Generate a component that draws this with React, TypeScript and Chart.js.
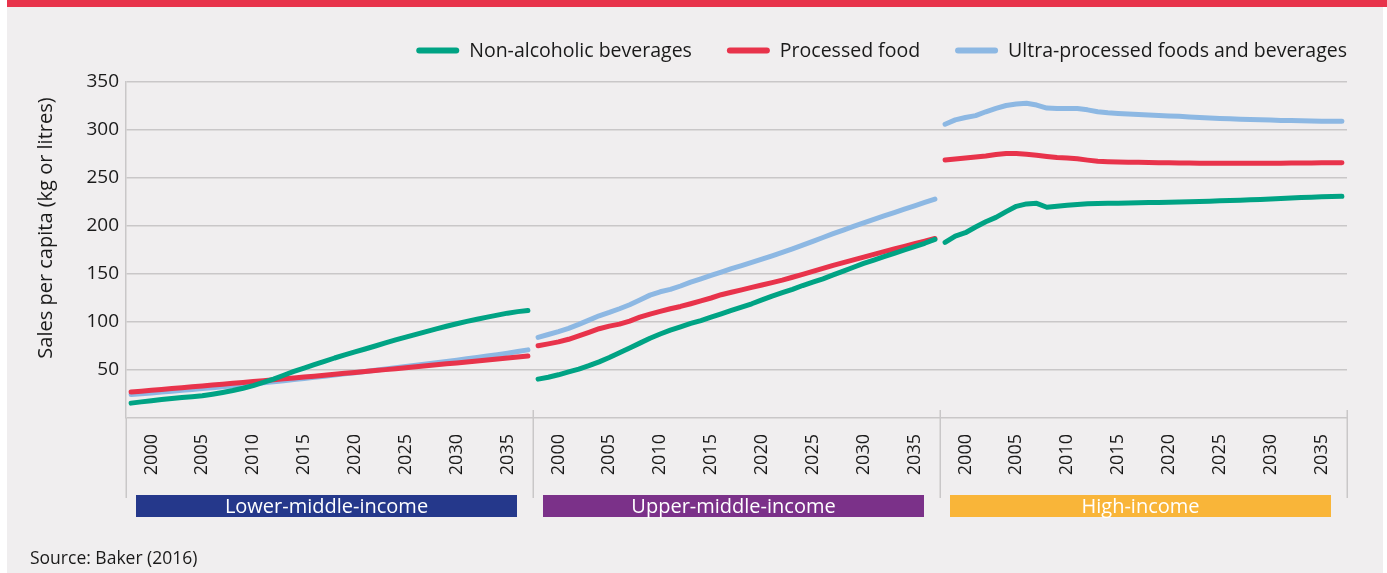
import { useEffect, useRef } from "react";
import { Chart, registerables } from "chart.js";

Chart.register(...registerables);

// ---------- data ----------
const years = [
  1998, 1999, 2000, 2001, 2002, 2003, 2004, 2005, 2006, 2007,
  2008, 2009, 2010, 2011, 2012, 2013, 2014, 2015, 2016, 2017,
  2018, 2019, 2020, 2021, 2022, 2023, 2024, 2025, 2026, 2027,
  2028, 2029, 2030, 2031, 2032, 2033, 2034, 2035, 2036, 2037,
];
const tickYears = [2000, 2005, 2010, 2015, 2020, 2025, 2030, 2035];
const yTickValues = [0, 50, 100, 150, 200, 250, 300, 350];
const incomeGroups = ["Lower-middle-income", "Upper-middle-income", "High-income"];
const seriesNames = ["Non-alcoholic beverages", "Processed food", "Ultra-processed foods and beverages"];

// Lower-middle-income
const lmicBeverages = [15.5, 16.8, 18, 19.2, 20.3, 21.3, 22.2, 23.2, 24.8, 26.6, 28.6, 31, 33.8, 37, 40.5, 44.5, 48.5, 52, 55.5, 59, 62.5, 65.7, 68.8, 71.9, 75, 78.2, 81.3, 84.3, 87.2, 90, 92.8, 95.6, 98.2, 100.6, 102.9, 105.1, 107.2, 109.2, 110.8, 112];
const lmicProcessed = [27, 27.9, 28.8, 29.8, 30.7, 31.6, 32.5, 33.4, 34.3, 35.2, 36.1, 37, 38, 38.9, 39.8, 40.8, 41.7, 42.7, 43.6, 44.6, 45.5, 46.5, 47.5, 48.4, 49.4, 50.4, 51.4, 52.4, 53.4, 54.4, 55.4, 56.4, 57.4, 58.4, 59.4, 60.4, 61.4, 62.4, 63.5, 64.6];
const lmicUltra = [24.5, 25.3, 26.1, 27, 27.9, 28.8, 29.7, 30.6, 31.6, 32.6, 33.6, 34.6, 35.6, 36.7, 37.8, 38.9, 40, 41.2, 42.4, 43.6, 44.8, 46, 47.2, 48.5, 49.8, 51.1, 52.4, 53.7, 55, 56.3, 57.6, 58.9, 60.3, 61.7, 63.1, 64.5, 66, 67.5, 69.2, 71];

// Upper-middle-income
const umicBeverages = [40.5, 42.5, 45, 48, 51, 54.5, 58.5, 63, 68, 73, 78, 83, 87.5, 91.5, 95, 98.5, 101.5, 105, 108.5, 112, 115.5, 119, 123, 127, 130.5, 134, 138, 141.5, 145, 149, 153, 157, 161, 164.5, 168, 171.5, 175, 178.5, 182, 186];
const umicProcessed = [75.3, 77.2, 79.3, 82, 85.5, 89.2, 93, 95.7, 97.8, 101, 105, 108.2, 111, 113.8, 116.2, 119, 122, 125, 128.4, 131, 133.5, 136, 138.5, 141, 143.6, 146.6, 149.6, 152.7, 155.8, 159, 161.8, 164.7, 167.6, 170.5, 173.3, 176, 178.8, 181.5, 184.2, 187];
const umicUltra = [84, 87, 90, 93.3, 97.5, 102, 106.5, 110, 113.8, 118, 123, 128, 131.5, 134, 137.5, 141.5, 145, 148.5, 152, 155.5, 158.7, 162, 165.5, 169, 172.5, 176.2, 180, 184, 188, 192, 195.8, 199.5, 203.2, 207, 210.5, 214, 217.5, 221, 224.5, 228];

// High-income
const hicBeverages = [183, 189.5, 193, 199, 204.5, 209, 215, 220.5, 223, 223.6, 219.5, 220.5, 221.5, 222.5, 223.2, 223.4, 223.6, 223.8, 224, 224.2, 224.4, 224.6, 224.8, 225, 225.3, 225.6, 225.9, 226.2, 226.5, 226.9, 227.3, 227.7, 228.1, 228.6, 229.1, 229.6, 230, 230.4, 230.7, 231];
const hicProcessed = [268.8, 269.8, 270.8, 271.8, 273, 274.5, 275.6, 275.5, 274.8, 273.8, 272.5, 271.3, 270.8, 270, 268.6, 267.4, 267, 266.7, 266.5, 266.3, 266.1, 266, 265.8, 265.6, 265.5, 265.4, 265.3, 265.3, 265.3, 265.3, 265.3, 265.3, 265.3, 265.4, 265.5, 265.6, 265.7, 265.8, 265.9, 266];
const hicUltra = [306, 310.5, 313, 315, 319, 322.5, 325.5, 327, 327.8, 326, 322.8, 322.5, 322.5, 322.3, 321, 319, 318, 317.3, 316.7, 316.2, 315.7, 315.2, 314.7, 314.2, 313.6, 313, 312.5, 312, 311.6, 311.2, 310.9, 310.6, 310.3, 310, 309.8, 309.6, 309.4, 309.2, 309.1, 309];

// ---------- styles ----------
const seriesColors = ["#00a384", "#e8334b", "#8db8e3"];
const groupColors = ["#25388b", "#7b3189", "#f9b539"];
const FONT = "'Open Sans', sans-serif";
const TEXT = "#1a1a1a";
const GRID = "#c9c7c8";

const groupedValues = [
  [lmicBeverages, umicBeverages, hicBeverages],
  [lmicProcessed, umicProcessed, hicProcessed],
  [lmicUltra, umicUltra, hicUltra],
];

const N = years.length;
const posOf = (panel: number, year: number) => panel * N + (year - years[0]) + 0.5;

function buildSeries(s: number) {
  const pts: { x: number; y: number | null }[] = [];
  groupedValues[s].forEach((vals, k) => {
    vals.forEach((v, i) => pts.push({ x: posOf(k, years[i]), y: v }));
    if (k < groupedValues[s].length - 1) pts.push({ x: (k + 1) * N, y: null });
  });
  return pts;
}

const tickPositions: number[] = [];
const tickLabelMap: Record<string, string> = {};
incomeGroups.forEach((_, k) => {
  tickYears.forEach((yr) => {
    const p = posOf(k, yr);
    tickPositions.push(p);
    tickLabelMap[p.toFixed(2)] = String(yr);
  });
});

const decorPlugin = {
  id: "decor",
  afterDraw(chart: any) {
    const ctx = chart.ctx as CanvasRenderingContext2D;
    const xs = chart.scales.x;
    const ys = chart.scales.y;
    const area = chart.chartArea;
    const base = ys.getPixelForValue(0);
    const lower = base + 80;
    ctx.save();

    // panel dividers / axis extension
    ctx.strokeStyle = GRID;
    ctx.lineWidth = 1.5;
    for (let k = 0; k <= incomeGroups.length; k++) {
      const x = Math.round(xs.getPixelForValue(k * N)) + 0.25;
      ctx.beginPath();
      ctx.moveTo(x, k === 0 ? base : base - 8);
      ctx.lineTo(x, lower);
      ctx.stroke();
    }

    // income group bars
    ctx.font = `20px ${FONT}`;
    ctx.textAlign = "center";
    ctx.textBaseline = "alphabetic";
    incomeGroups.forEach((g, k) => {
      const l = xs.getPixelForValue(k * N) + 10;
      const r = xs.getPixelForValue((k + 1) * N) - 16;
      ctx.fillStyle = groupColors[k];
      ctx.fillRect(l, base + 77, r - l, 22);
      ctx.fillStyle = "#ffffff";
      ctx.fillText(g, (l + r) / 2, base + 95);
    });

    // legend
    ctx.font = `19.5px ${FONT}`;
    ctx.textAlign = "left";
    ctx.textBaseline = "alphabetic";
    let x = area.right;
    for (let s = seriesNames.length - 1; s >= 0; s--) {
      const w = ctx.measureText(seriesNames[s]).width;
      x -= w;
      ctx.fillStyle = TEXT;
      ctx.fillText(seriesNames[s], x, 57);
      x -= 10;
      ctx.strokeStyle = seriesColors[s];
      ctx.lineWidth = 6;
      ctx.lineCap = "round";
      ctx.beginPath();
      ctx.moveTo(x - 40, 50.5);
      ctx.lineTo(x - 3, 50.5);
      ctx.stroke();
      x -= 43 + 35;
    }

    // y axis title
    ctx.save();
    ctx.translate(46, 228);
    ctx.rotate(-Math.PI / 2);
    ctx.font = `20px ${FONT}`;
    ctx.textAlign = "center";
    ctx.textBaseline = "middle";
    ctx.fillStyle = TEXT;
    ctx.fillText("Sales per capita (kg or litres)", 0, 0);
    ctx.restore();

    // source
    ctx.font = `17.5px ${FONT}`;
    ctx.textAlign = "left";
    ctx.textBaseline = "alphabetic";
    ctx.fillStyle = TEXT;
    ctx.fillText("Source: Baker (2016)", 30, 564);

    ctx.restore();
  },
};

export default function App() {
  const ref = useRef<HTMLCanvasElement>(null);

  useEffect(() => {
    if (!ref.current) return;
    const chart = new Chart(ref.current, {
      type: "line",
      data: {
        datasets: seriesNames.map((name, s) => ({
          label: name,
          data: buildSeries(s),
          borderColor: seriesColors[s],
          backgroundColor: seriesColors[s],
          borderWidth: 5,
          borderCapStyle: "round",
          borderJoinStyle: "round",
          pointRadius: 0,
          pointHoverRadius: 0,
          tension: 0,
          spanGaps: false,
          fill: false,
        })),
      },
      options: {
        responsive: false,
        animation: false,
        devicePixelRatio: 1,
        parsing: false,
        normalized: true,
        layout: { padding: { left: 0, right: 40, top: 82, bottom: 75 } },
        plugins: {
          legend: { display: false },
          tooltip: { enabled: false },
          title: { display: false },
        },
        scales: {
          x: {
            type: "linear",
            min: 0,
            max: N * incomeGroups.length,
            grid: { display: false, drawTicks: false },
            border: { display: false },
            afterBuildTicks: (axis: any) => {
              axis.ticks = tickPositions.map((v) => ({ value: v }));
            },
            afterFit: (axis: any) => {
              axis.height = 80;
            },
            ticks: {
              autoSkip: false,
              minRotation: 90,
              maxRotation: 90,
              padding: 16,
              color: TEXT,
              font: { family: FONT, size: 18 },
              callback: (v: any) => tickLabelMap[Number(v).toFixed(2)] ?? "",
            },
          },
          y: {
            type: "linear",
            min: 0,
            max: 350,
            afterBuildTicks: (axis: any) => {
              axis.ticks = yTickValues.map((v) => ({ value: v }));
            },
            afterFit: (axis: any) => {
              axis.width = 126;
            },
            grid: { color: GRID, lineWidth: 1.5, drawTicks: false },
            border: { display: true, color: GRID, width: 1.5 },
            ticks: {
              padding: 7,
              color: TEXT,
              font: { family: FONT, size: 19 },
              callback: (v: any) => (Number(v) === 0 ? "" : String(v)),
            },
          },
        },
      },
      plugins: [decorPlugin],
    } as any);
    return () => chart.destroy();
  }, []);

  return (
    <div
      style={{
        position: "fixed",
        left: 0,
        top: 0,
        width: 1387,
        height: 573,
        background: "#ffffff",
        overflow: "hidden",
      }}
    >
      <div style={{ position: "absolute", left: 7, top: 0, width: 1380, height: 7, background: "#e8334b" }} />
      <div style={{ position: "absolute", left: 7, top: 7, width: 1376, height: 566, background: "#f0eeef" }} />
      <canvas
        ref={ref}
        width={1387}
        height={573}
        style={{ position: "absolute", left: 0, top: 0, width: 1387, height: 573 }}
      />
    </div>
  );
}
